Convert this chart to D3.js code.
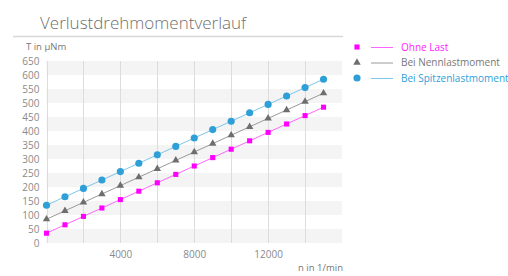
<!DOCTYPE html>
<html>
<head>
<meta charset="utf-8">
<script src="https://cdn.jsdelivr.net/npm/d3@7"></script>
<style>
  body { margin: 0; background: #fff; }
  text { font-family: "Open Sans", sans-serif; }
</style>
</head>
<body>
<div id="chart"></div>
<script>
// data
const speeds = [0, 1000, 2000, 3000, 4000, 5000, 6000, 7000, 8000, 9000, 10000, 11000, 12000, 13000, 14000, 15000];
const ohneLast = [35, 65, 95, 125, 155, 185, 215, 245, 275, 305, 335, 365, 395, 425, 455, 485];
const nennlast = [85, 115, 145, 175, 205, 235, 265, 295, 325, 355, 385, 415, 445, 475, 505, 535];
const spitzenlast = [135, 165, 195, 225, 255, 285, 315, 345, 375, 405, 435, 465, 495, 525, 555, 585];
const yTicks = [0, 50, 100, 150, 200, 250, 300, 350, 400, 450, 500, 550, 600, 650];
const xLabels = [4000, 8000, 12000];
const xGrid = [0, 2000, 4000, 6000, 8000, 10000, 12000, 14000];

const series = [
    { name: "Ohne Last", values: ohneLast, line: "#ff66ff", mark: "#ff00ff", text: "#ff1aff", shape: "square" },
    { name: "Bei Nennlastmoment", values: nennlast, line: "#9a9a9a", mark: "#6e6e6e", text: "#777", shape: "triangle" },
    { name: "Bei Spitzenlastmoment", values: spitzenlast, line: "#7ec6ea", mark: "#2f9fd8", text: "#2f9fd8", shape: "circle" }
];

const width = 508, height = 276;
const svg = d3.select("#chart").append("svg")
    .attr("width", width)
    .attr("height", height);

const x = d3.scaleLinear().domain([0, 16000]).range([46.5, 342]);
const y = d3.scaleLinear().domain([0, 650]).range([243, 61]);

// title
svg.append("text")
    .attr("x", 40).attr("y", 29)
    .attr("font-size", 17)
    .attr("font-weight", 300)
    .attr("fill", "#6f6f6f")
    .text("Verlustdrehmomentverlauf");
svg.append("line")
    .attr("x1", 13).attr("x2", 343)
    .attr("y1", 36.5).attr("y2", 36.5)
    .attr("stroke", "#d8d8d8")
    .attr("stroke-width", 1.6);

// alternating bands
const bands = d3.range(0, 650, 100);
svg.append("g").selectAll("rect")
    .data(bands)
    .enter().append("rect")
    .attr("x", x(0))
    .attr("width", x(16000) - x(0))
    .attr("y", d => y(d + 50))
    .attr("height", d => y(d) - y(d + 50))
    .attr("fill", "#f4f4f4");

// vertical grid
svg.append("g").selectAll("line")
    .data(xGrid)
    .enter().append("line")
    .attr("x1", d => Math.round(x(d)) + 0.5)
    .attr("x2", d => Math.round(x(d)) + 0.5)
    .attr("y1", y(650))
    .attr("y2", y(0))
    .attr("stroke", "#dcdcdc");

// y axis labels
const yAxis = svg.append("g")
    .attr("transform", `translate(${x(0) - 7},0)`)
    .call(d3.axisLeft(y).tickValues(yTicks).tickSize(0).tickPadding(0));
yAxis.select(".domain").remove();
yAxis.selectAll("text").attr("font-size", 10).attr("fill", "#8a8a8a").attr("font-family", "'Open Sans', sans-serif");

// x axis labels
const xAxis = svg.append("g")
    .attr("transform", `translate(0,${y(0) + 8})`)
    .call(d3.axisBottom(x).tickValues(xLabels).tickSize(0).tickPadding(0).tickFormat(d3.format("d")));
xAxis.select(".domain").remove();
xAxis.selectAll("text").attr("font-size", 10).attr("fill", "#8a8a8a").attr("font-family", "'Open Sans', sans-serif");

// axis titles
svg.append("text")
    .attr("x", 26).attr("y", 50)
    .attr("font-size", 9.5)
    .attr("fill", "#777")
    .text("T in µNm");
svg.append("text")
    .attr("x", 343).attr("y", 271)
    .attr("text-anchor", "end")
    .attr("font-size", 9.5)
    .attr("fill", "#777")
    .text("n in 1/min");

const line = d3.line()
    .x((d, i) => x(speeds[i]))
    .y(d => y(d));

const symbolFor = {
    square: d3.symbol().type(d3.symbolSquare).size(26),
    triangle: d3.symbol().type(d3.symbolTriangle).size(24),
    circle: d3.symbol().type(d3.symbolCircle).size(40)
};

series.forEach(s => {
    svg.append("path")
        .datum(s.values)
        .attr("d", line)
        .attr("fill", "none")
        .attr("stroke", s.line)
        .attr("stroke-width", 1);

    svg.append("g").selectAll("path")
        .data(s.values)
        .enter().append("path")
        .attr("transform", (d, i) => `translate(${x(speeds[i])},${y(d)})`)
        .attr("d", symbolFor[s.shape]())
        .attr("fill", s.mark);
});

// legend
const legend = svg.append("g").attr("transform", "translate(357,47)");
series.forEach((s, i) => {
    const row = legend.append("g").attr("transform", `translate(0,${i * 15.5})`);
    row.append("path")
        .attr("d", symbolFor[s.shape]())
        .attr("fill", s.mark);
    row.append("line")
        .attr("x1", 14).attr("x2", 36)
        .attr("y1", 0.5).attr("y2", 0.5)
        .attr("stroke", s.line);
    row.append("text")
        .attr("x", 44).attr("y", 0)
        .attr("dy", "0.35em")
        .attr("font-size", 10)
        .attr("fill", s.text)
        .text(s.name);
});
</script>
</body>
</html>
